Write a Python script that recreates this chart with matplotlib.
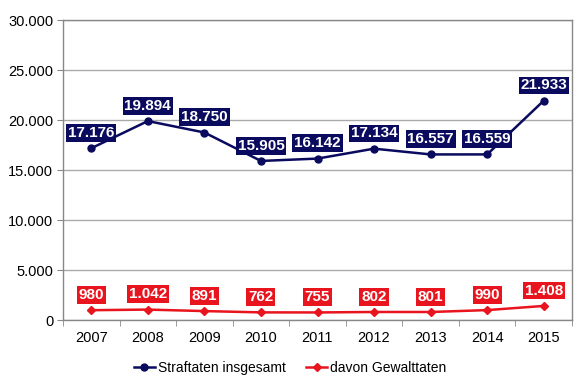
import matplotlib
matplotlib.use("Agg")
import matplotlib.pyplot as plt
import numpy as np
from matplotlib.ticker import FuncFormatter

years = ["2007", "2008", "2009", "2010", "2011", "2012", "2013", "2014", "2015"]
straftaten = [17176, 19894, 18750, 15905, 16142, 17134, 16557, 16559, 21933]
gewalttaten = [980, 1042, 891, 762, 755, 802, 801, 990, 1408]
series_names = ["Straftaten insgesamt", "davon Gewalttaten"]

plt.rcParams['font.family'] = ['Liberation Sans', 'DejaVu Sans']

fig = plt.figure(figsize=(5.8, 3.85), dpi=100)
ax = fig.add_axes([63/580, 1 - 320/385, (572-63)/580, 300/385])

x = np.arange(len(years))
navy = "#0a0a5e"
red = "#e8141e"

ax.plot(x, straftaten, color=navy, lw=1.8, marker="o", ms=5, label=series_names[0], zorder=3)
ax.plot(x, gewalttaten, color=red, lw=1.8, marker="D", ms=4, label=series_names[1], zorder=3)

def fmt(v):
    return f"{v:,}".replace(",", ".")

for xi, v in zip(x, straftaten):
    ax.annotate(fmt(v), (xi, v), xytext=(0, 11), textcoords="offset points",
                ha="center", va="center", color="white", fontsize=11, fontweight="bold",
                bbox=dict(boxstyle="square,pad=0.12", fc=navy, ec="none"), zorder=4)
for xi, v in zip(x, gewalttaten):
    ax.annotate(fmt(v), (xi, v), xytext=(0, 11), textcoords="offset points",
                ha="center", va="center", color="white", fontsize=11, fontweight="bold",
                bbox=dict(boxstyle="square,pad=0.12", fc=red, ec="none"), zorder=4)

ax.set_xlim(-0.5, len(years) - 0.5)
ax.set_ylim(0, 30000)
ax.set_yticks(np.arange(0, 30001, 5000))
ax.yaxis.set_major_formatter(FuncFormatter(lambda v, p: fmt(int(v))))
ax.set_xticks(x)
ax.set_xticklabels(years)
ax.set_xticks(np.arange(-0.5, len(years), 1), minor=True)
ax.tick_params(axis="x", which="major", length=0, pad=8, labelsize=10.5)
ax.tick_params(axis="x", which="minor", length=4, color="#888888")
ax.tick_params(axis="y", length=4, color="#888888", labelsize=10.5, pad=3)
ax.grid(axis="y", color="#aaaaaa", lw=1)
ax.set_axisbelow(True)
for s in ax.spines.values():
    s.set_color("#888888")
    s.set_linewidth(1)

fig.legend(*ax.get_legend_handles_labels(), loc="center", bbox_to_anchor=(0.5, 1 - 368/385),
           ncol=2, frameon=False, fontsize=10, handlelength=1.5, handletextpad=0.2,
           columnspacing=1.5, borderaxespad=0)

fig.savefig("out.png", dpi=100)
